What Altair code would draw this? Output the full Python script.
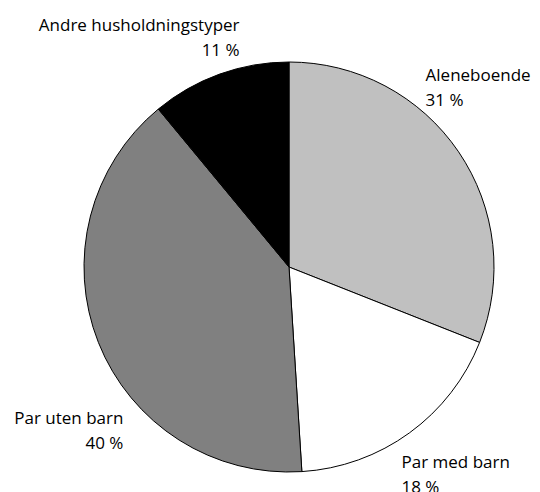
import altair as alt
import pandas as pd

categories = ["Aleneboende", "Par med barn", "Par uten barn", "Andre husholdningstyper"]
values = [31, 18, 40, 11]
colors = ["#c0c0c0", "#ffffff", "#808080", "#000000"]

df = pd.DataFrame({
    "cat": categories,
    "value": values,
    "i": list(range(len(categories))),
})
df["label"] = [f"{c}\n{v} %" for c, v in zip(categories, values)]

CX, CY, R = 281, 259, 205

base = alt.Chart(df)

pie = base.mark_arc(outerRadius=R, stroke="black", strokeWidth=1).encode(
    theta=alt.Theta("value:Q", stack=True),
    color=alt.Color("cat:N", scale=alt.Scale(domain=categories, range=colors), legend=None),
    order=alt.Order("i:Q"),
    x=alt.value(CX),
    y=alt.value(CY),
)

lab_base = base.transform_joinaggregate(total="sum(value)").transform_window(
    cum="sum(value)", sort=[alt.SortField("i")], frame=[None, 0]
).transform_calculate(
    mid=f"(datum.cum - datum.value/2)/datum.total*2*PI"
).transform_calculate(
    px=f"{CX} + {R}*sin(datum.mid)",
    py=f"{CY} - {R}*cos(datum.mid)",
)

# per-label placement: (align, dx, dy)
placement = {
    "Aleneboende": ("left", -33, -71),
    "Par med barn": ("left", -8, 35),
    "Par uten barn": ("right", 25, 82),
    "Andre husholdningstyper": ("right", 20, -43),
}

layers = [pie]
for c in categories:
    align, dx, dy = placement[c]
    layers.append(
        lab_base.transform_filter(alt.datum.cat == c).mark_text(
            align=align, baseline="alphabetic", dx=dx, dy=dy,
            font="Open Sans", fontSize=17, lineHeight=25, lineBreak="\n", color="black",
        ).encode(
            x=alt.X("px:Q", scale=None),
            y=alt.Y("py:Q", scale=None),
            text="label:N",
        )
    )

chart = alt.layer(*layers).properties(
    width=524, height=476, padding=0
).configure_view(stroke=None)

chart.save("out.html", embed_options={"renderer": "svg", "actions": False})
